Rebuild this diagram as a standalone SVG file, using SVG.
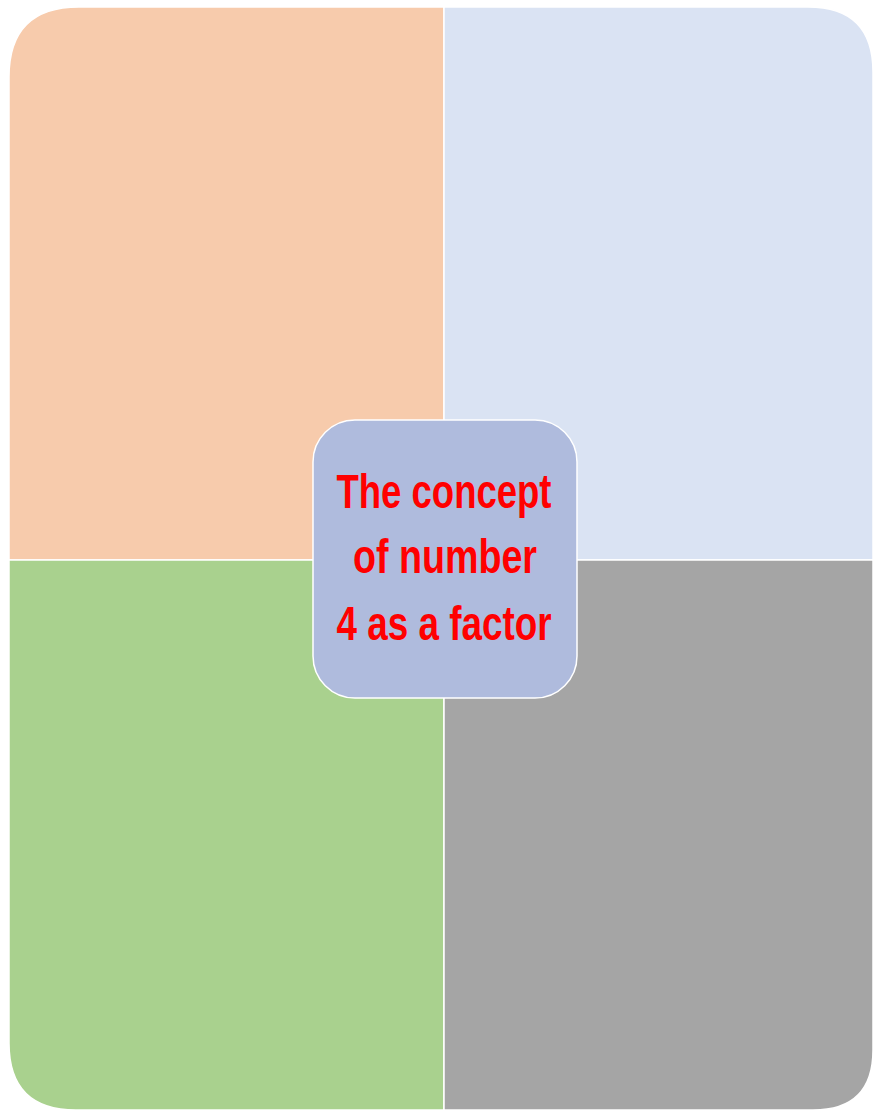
<svg xmlns="http://www.w3.org/2000/svg" width="873" height="1113" viewBox="0 0 873 1113">
<style>
.q{stroke:#ffffff;stroke-width:1.5}
.t{font-family:"Liberation Sans",Arial,sans-serif;font-weight:bold;font-size:48px;fill:#ff0000;text-anchor:middle}
</style>
<rect width="873" height="1113" fill="#ffffff"/>
<g id="q-top-left"><path class="q" d="M9,560 L9,77 Q9,7 79,7 L444,7 L444,560 Z" fill="#F7CBAC"/></g>
<g id="q-top-right"><path class="q" d="M444,7 L808,7 Q873,7 873,72 L873,560 L444,560 Z" fill="#DAE3F3"/></g>
<g id="q-bottom-left"><path class="q" d="M9,560 L444,560 L444,1110 L76,1110 Q9,1110 9,1043 Z" fill="#A9D18E"/></g>
<g id="q-bottom-right"><path class="q" d="M444,560 L873,560 L873,1050 Q873,1110 813,1110 L444,1110 Z" fill="#A5A5A5"/></g>
<g id="center">
<rect x="313" y="420" width="264" height="278" rx="42" ry="42" fill="#AFBBDD" stroke="#ffffff" stroke-width="1.5"/>
<text class="t" x="444" y="508" textLength="215" lengthAdjust="spacingAndGlyphs">The concept</text>
<text class="t" x="445" y="573" textLength="184" lengthAdjust="spacingAndGlyphs">of number</text>
<text class="t" x="444" y="640" textLength="215" lengthAdjust="spacingAndGlyphs">4 as a factor</text>
</g>
<g id="connectors"></g>
</svg>
